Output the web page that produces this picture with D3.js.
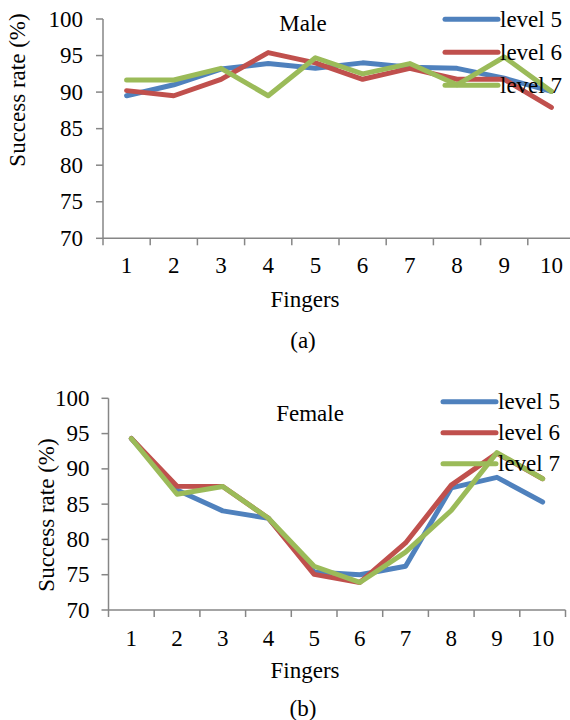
<!DOCTYPE html>
<html><head><meta charset="utf-8">
<script src="https://cdn.jsdelivr.net/npm/d3@7"></script>
<style>
html,body{margin:0;padding:0;background:#fff;}
svg{display:block;}
text{font-family:"Liberation Serif","Times New Roman",serif;fill:#000;}
</style></head>
<body>
<svg id="chart" width="570" height="720"></svg>
<script>
const fingers = ["1","2","3","4","5","6","7","8","9","10"];
const seriesNames = ["level 5","level 6","level 7"];
const seriesColors = ["#4F81BD","#C0504D","#9BBB59"];
const yTicks = [70,75,80,85,90,95,100];

const maleLevel5 = [89.5, 91.0, 93.15, 93.9, 93.25, 94.0, 93.4, 93.25, 91.9, 90.1];
const maleLevel6 = [90.2, 89.5, 91.75, 95.4, 94.0, 91.75, 93.25, 91.75, 91.75, 87.9];
const maleLevel7 = [91.65, 91.65, 93.25, 89.5, 94.7, 92.5, 93.9, 91.0, 94.8, 90.1];

const femaleLevel5 = [94.3, 87.0, 84.05, 83.0, 75.4, 75.0, 76.2, 87.3, 88.8, 85.3];
const femaleLevel6 = [94.3, 87.55, 87.5, 83.0, 75.05, 73.9, 79.5, 87.7, 92.2, 88.6];
const femaleLevel7 = [94.3, 86.4, 87.5, 83.0, 76.2, 73.9, 78.2, 84.1, 92.3, 88.6];

const svg = d3.select("#chart");
const FS = 23;
const axisColor = "#868686";

function drawPanel(cfg){
  const g = svg.append("g");
  const x = d3.scaleBand().domain(fingers).range([cfg.x0, cfg.x0 + cfg.step*fingers.length]).paddingInner(0).paddingOuter(0);
  const y = d3.scaleLinear().domain([70,100]).range([cfg.yBottom, cfg.yTop]);

  // y axis
  g.append("line").attr("x1",cfg.x0).attr("x2",cfg.x0).attr("y1",y(100)).attr("y2",y(70))
    .attr("stroke",axisColor).attr("stroke-width",1.5);
  yTicks.forEach(t=>{
    g.append("line").attr("x1",cfg.x0-7).attr("x2",cfg.x0).attr("y1",y(t)).attr("y2",y(t))
      .attr("stroke",axisColor).attr("stroke-width",1.5);
    g.append("text").attr("x",cfg.x0-cfg.yLabelOff).attr("y",y(t)).attr("text-anchor","end")
      .attr("dominant-baseline","central").attr("font-size",FS).text(t);
  });
  // x axis
  const xEnd = cfg.x0 + cfg.step*fingers.length;
  g.append("line").attr("x1",cfg.x0).attr("x2",xEnd).attr("y1",y(70)).attr("y2",y(70))
    .attr("stroke",axisColor).attr("stroke-width",1.5);
  const bounds = fingers.map(f=>x(f)).concat([xEnd]);
  bounds.forEach(b=>{
    g.append("line").attr("x1",b).attr("x2",b).attr("y1",y(70)).attr("y2",y(70)+7)
      .attr("stroke",axisColor).attr("stroke-width",1.5);
  });
  fingers.forEach(f=>{
    g.append("text").attr("x",x(f)+x.bandwidth()/2).attr("y",y(70)+cfg.xLabelOff)
      .attr("text-anchor","middle").attr("dominant-baseline","central").attr("font-size",FS).text(f);
  });

  // lines
  const line = d3.line().x((d,i)=>x(fingers[i])+x.bandwidth()/2).y(d=>y(d));
  cfg.series.forEach((s,k)=>{
    g.append("path").attr("d",line(s)).attr("fill","none").attr("stroke",seriesColors[k])
      .attr("stroke-width",5).attr("stroke-linejoin","round").attr("stroke-linecap","round");
  });

  // title
  g.append("text").attr("x",cfg.titleX).attr("y",cfg.titleY).attr("text-anchor","middle")
    .attr("dominant-baseline","central").attr("font-size",FS).text(cfg.title);

  // legend
  seriesNames.forEach((n,k)=>{
    const ly = cfg.legY + k*cfg.legStep;
    g.append("line").attr("x1",cfg.legX).attr("x2",cfg.legX+53).attr("y1",ly).attr("y2",ly)
      .attr("stroke",seriesColors[k]).attr("stroke-width",5).attr("stroke-linecap","round");
    g.append("text").attr("x",cfg.legX+55).attr("y",ly).attr("dominant-baseline","central")
      .attr("font-size",FS).text(n);
  });

  // y title
  g.append("text").attr("transform",`translate(${cfg.yTitleX},${cfg.yTitleY}) rotate(-90)`)
    .attr("text-anchor","middle").attr("dominant-baseline","central").attr("font-size",FS)
    .text("Success rate (%)");
  // x title
  g.append("text").attr("x",305).attr("y",cfg.xTitleY).attr("text-anchor","middle")
    .attr("dominant-baseline","central").attr("font-size",FS).text("Fingers");
  g.append("text").attr("x",303).attr("y",cfg.capY).attr("text-anchor","middle")
    .attr("dominant-baseline","central").attr("font-size",FS).text(cfg.caption);
}

drawPanel({x0:103, step:47.2, yTop:19, yBottom:238.3, xLabelOff:27, yLabelOff:20,
  series:[maleLevel5,maleLevel6,maleLevel7], title:"Male", titleX:303, titleY:23,
  legX:445, legY:19.3, legStep:33, yTitleX:17, yTitleY:90, xTitleY:299, capY:340, caption:"(a)"});

drawPanel({x0:108.5, step:45.7, yTop:398.3, yBottom:610, xLabelOff:28, yLabelOff:19,
  series:[femaleLevel5,femaleLevel6,femaleLevel7], title:"Female", titleX:310, titleY:413,
  legX:443, legY:401.7, legStep:31, yTitleX:46, yTitleY:515, xTitleY:670, capY:708, caption:"(b)"});
</script>
</body></html>
